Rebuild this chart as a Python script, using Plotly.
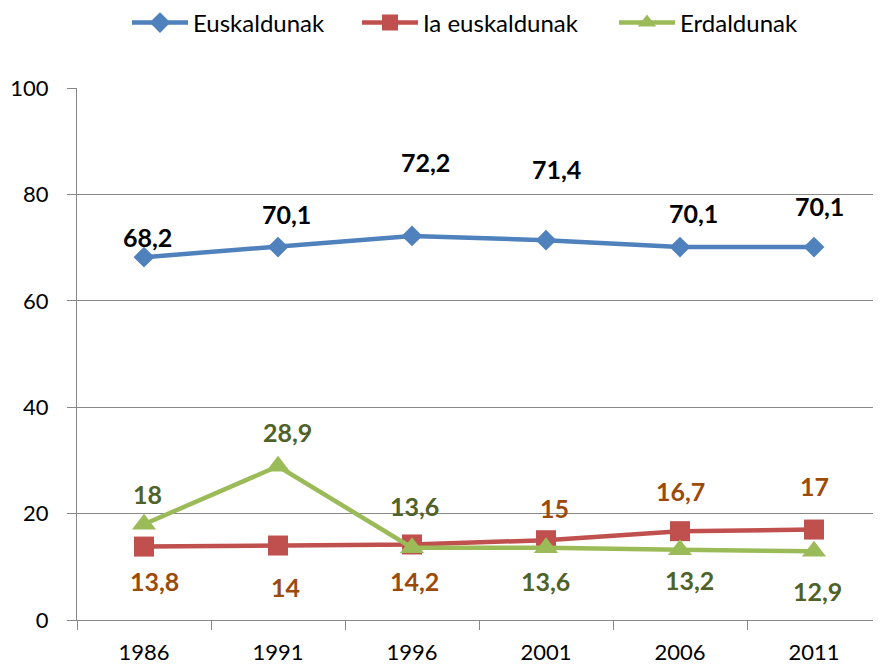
import plotly.graph_objects as go

years = ["1986", "1991", "1996", "2001", "2006", "2011"]
euskaldunak = [68.2, 70.1, 72.2, 71.4, 70.1, 70.1]
ia_euskaldunak = [13.8, 14, 14.2, 15, 16.7, 17]
erdaldunak = [18, 28.9, 13.6, 13.6, 13.2, 12.9]
y_ticks = [0, 20, 40, 60, 80, 100]

series_names = ["Euskaldunak", "Ia euskaldunak", "Erdaldunak"]

# label offsets in pixels (dx right, dy down) - styling only
eusk_off = [(3, -20), (8, -33), (13, -74), (10, -71), (13, -34), (5, -41)]
ia_off = [(10, 34), (7, 41), (2, 37), (8, -32), (0, -40), (0, -44)]
erd_off = [(3, -30), (9, -34), (2, -42), (-1, 33), (9, 30), (3, 40)]

line_colors = ["#4F81BD", "#C0504D", "#9BBB59"]
label_colors = ["#000000", "#9C4A0A", "#4F6228"]
symbols = ["diamond", "square", "triangle-up"]
sizes = [16, 20, 21]

fig = go.Figure()
all_vals = [euskaldunak, ia_euskaldunak, erdaldunak]
all_offs = [eusk_off, ia_off, erd_off]
legends = ["legend", "legend2", "legend3"]

for name, vals, col, sym, sz, lg in zip(series_names, all_vals, line_colors, symbols, sizes, legends):
    fig.add_trace(go.Scatter(
        x=years, y=vals, name=name, mode="lines+markers",
        line=dict(color=col, width=4.5),
        marker=dict(symbol=sym, size=sz, color=col, line=dict(width=0)),
        legend=lg, hoverinfo="skip",
    ))


def fmt(v):
    return ("%g" % v).replace(".", ",")


annotations = []
for vals, offs, lc in zip(all_vals, all_offs, label_colors):
    for i, (v, (dx, dy)) in enumerate(zip(vals, offs)):
        annotations.append(dict(
            x=i, y=v, xref="x", yref="y",
            text="<b>%s</b>" % fmt(v), showarrow=False,
            xshift=dx, yshift=-dy,
            font=dict(family="Lato", size=25, color=lc),
            xanchor="center", yanchor="middle",
        ))

# the page body adds an 8px margin, so the figure is 8px smaller
W, H = 873, 656
OFF = 8
legend_font = dict(family="Lato", size=24, color="#000000")
sym_centers = [160, 390, 647]
layout_legends = {}
for lg, sc in zip(legends, sym_centers):
    layout_legends[lg] = dict(
        x=(sc - OFF - 33) / W, xref="container", xanchor="left",
        y=1 - (23 - OFF) / H, yref="container", yanchor="middle",
        orientation="h", font=legend_font, bgcolor="rgba(0,0,0,0)",
        borderwidth=0, itemwidth=56, tracegroupgap=0,
    )

fig.update_layout(
    width=W, height=H,
    margin=dict(l=77 - OFF, r=0, t=88 - OFF, b=44, pad=0),
    paper_bgcolor="white", plot_bgcolor="white",
    showlegend=True,
    annotations=annotations,
    **layout_legends,
    xaxis=dict(
        type="category", range=[-0.5, 5.5],
        showgrid=False, showline=True, linecolor="#888888", linewidth=1.3,
        ticks="outside", tickson="boundaries", ticklen=9, tickcolor="#888888",
        tickfont=dict(family="Lato", size=22, color="#000000"),
        ticklabelstandoff=12, zeroline=False, fixedrange=True,
    ),
    yaxis=dict(
        range=[0, 100], tickvals=y_ticks,
        showgrid=True, gridcolor="#888888", gridwidth=1.3,
        showline=True, linecolor="#888888", linewidth=1.3,
        ticks="outside", ticklen=9, tickcolor="#888888",
        tickfont=dict(family="Lato", size=22, color="#000000"),
        ticklabelstandoff=14, zeroline=False, fixedrange=True,
    ),
)

fig.write_html("out.html")
